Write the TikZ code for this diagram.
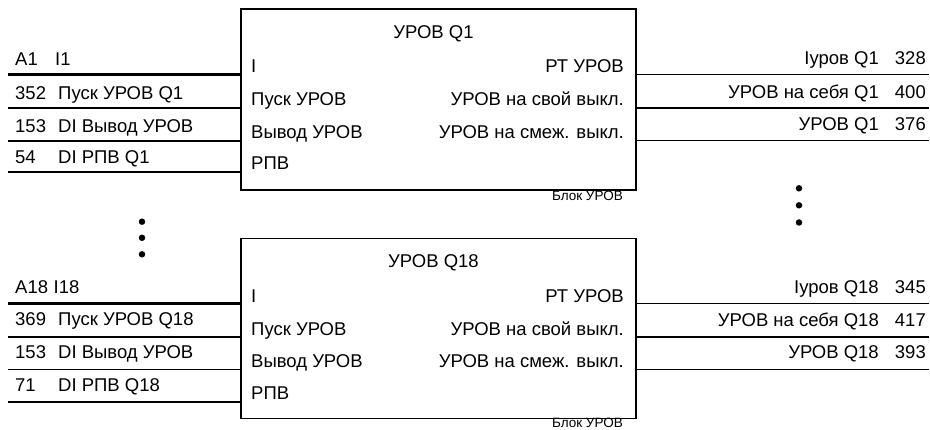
\documentclass[tikz,border=0pt]{standalone}
\usepackage{fontspec}
\setmainfont{Liberation Sans}
\begin{document}
\begin{tikzpicture}[x=1pt,y=-1pt,
  lbl/.style={inner sep=0pt, font=\fontsize{18.5}{21}\selectfont, anchor=base west},
  rlbl/.style={lbl, anchor=base east},
  ttl/.style={lbl, anchor=base},
  small/.style={inner sep=0pt, font=\fontsize{13.5}{15}\selectfont, anchor=base east},
  blk/.style={draw, line width=1.4pt, minimum width=395pt, inner sep=0pt},
  wire/.style={line width=1.4pt},
  bus/.style={line width=2.6pt},
  dotm/.style={circle, fill, inner sep=0pt, minimum size=6.5pt}]
\useasboundingbox (0,0) rectangle (930,430);

% ---------- blocks ----------
\node[blk, minimum height=181pt] (b1) at (438.5,99.5) {};
\node[blk, minimum height=180pt] (b2) at (438.5,328.4) {};

% ---------- block 1 wires ----------
\coordinate (L1a) at (8,74.5);
\coordinate (L1b) at (8,108);
\coordinate (L1c) at (8,141);
\coordinate (L1d) at (8,172);
\coordinate (R1a) at (929,74.5);
\coordinate (R1b) at (929,108);
\coordinate (R1c) at (929,140.5);
\draw[bus]  (L1a) -- (L1a -| b1.west);
\draw[wire] (L1b) -- (L1b -| b1.west);
\draw[wire] (L1c) -- (L1c -| b1.west);
\draw[wire] (L1d) -- (L1d -| b1.west);
\draw[wire] (b1.east |- R1a) -- (R1a);
\draw[wire] (b1.east |- R1b) -- (R1b);
\draw[wire] (b1.east |- R1c) -- (R1c);

% ---------- block 2 wires ----------
\coordinate (L2a) at (8,303.5);
\coordinate (L2b) at (8,337);
\coordinate (L2c) at (8,369.5);
\coordinate (L2d) at (8,402);
\coordinate (R2a) at (929,303.5);
\coordinate (R2b) at (929,337);
\coordinate (R2c) at (929,369.5);
\draw[bus]  (L2a) -- (L2a -| b2.west);
\draw[wire] (L2b) -- (L2b -| b2.west);
\draw[wire] (L2c) -- (L2c -| b2.west);
\draw[wire] (L2d) -- (L2d -| b2.west);
\draw[wire] (b2.east |- R2a) -- (R2a);
\draw[wire] (b2.east |- R2b) -- (R2b);
\draw[wire] (b2.east |- R2c) -- (R2c);

% ---------- block 1 texts ----------
\node[ttl]  (t1)  at (433.5,38.5) {УРОВ Q1};
\node[lbl]  (i1a) at (251,72.5)  {I};
\node[lbl]  (i1b) at (251,105.5) {Пуск УРОВ};
\node[lbl]  (i1c) at (251,138.5) {Вывод УРОВ};
\node[lbl]  (i1d) at (251,170)   {РПВ};
\node[rlbl] (o1a) at (624,72.5)  {РТ УРОВ};
\node[rlbl] (o1b) at (624,105.5) {УРОВ на свой выкл.};
\node[rlbl] (o1c) at (624,138.5) {УРОВ на смеж. выкл.};
\node[small] (k1) at (623,201) {Блок УРОВ};

\node[lbl] (n1a) at (15,65.5)  {A1};
\node[lbl] (s1a) at (55,65.5)  {I1};
\node[lbl] (n1b) at (15,100)   {352};
\node[lbl] (s1b) at (58,100)   {Пуск УРОВ Q1};
\node[lbl] (n1c) at (15,133)   {153};
\node[lbl] (s1c) at (58,133)   {DI Вывод УРОВ};
\node[lbl] (n1d) at (15,163.5) {54};
\node[lbl] (s1d) at (58,163.5) {DI РПВ Q1};

\node[rlbl] (q1a) at (879,65)   {Iуров Q1};
\node[rlbl] (m1a) at (926,65)   {328};
\node[rlbl] (q1b) at (879,98.5) {УРОВ на себя Q1};
\node[rlbl] (m1b) at (926,98.5) {400};
\node[rlbl] (q1c) at (879,130.5){УРОВ Q1};
\node[rlbl] (m1c) at (926,130.5){376};

% ---------- block 2 texts ----------
\node[ttl]  (t2)  at (433.5,268) {УРОВ Q18};
\node[lbl]  (i2a) at (251,302.5) {I};
\node[lbl]  (i2b) at (251,335.5) {Пуск УРОВ};
\node[lbl]  (i2c) at (251,368)   {Вывод УРОВ};
\node[lbl]  (i2d) at (251,400)   {РПВ};
\node[rlbl] (o2a) at (624,302.5) {РТ УРОВ};
\node[rlbl] (o2b) at (624,335.5) {УРОВ на свой выкл.};
\node[rlbl] (o2c) at (624,368)   {УРОВ на смеж. выкл.};
\node[small] (k2) at (623,428) {Блок УРОВ};

\node[lbl] (n2a) at (15,293.5)  {A18};
\node[lbl] (s2a) at (53.5,293.5)  {I18};
\node[lbl] (n2b) at (15,326)    {369};
\node[lbl] (s2b) at (58,326)    {Пуск УРОВ Q18};
\node[lbl] (n2c) at (15,358.5)  {153};
\node[lbl] (s2c) at (58,358.5)  {DI Вывод УРОВ};
\node[lbl] (n2d) at (15,391.5)  {71};
\node[lbl] (s2d) at (58,391.5)  {DI РПВ Q18};

\node[rlbl] (q2a) at (879,293.5) {Iуров Q18};
\node[rlbl] (m2a) at (926,293.5) {345};
\node[rlbl] (q2b) at (879,326.5) {УРОВ на себя Q18};
\node[rlbl] (m2b) at (926,326.5) {417};
\node[rlbl] (q2c) at (879,358.5) {УРОВ Q18};
\node[rlbl] (m2c) at (926,358.5) {393};

% ---------- ellipsis dots ----------
\node[dotm] (dr1) at (799,188.3) {};
\node[dotm] (dr2) at (799,205.3) {};
\node[dotm] (dr3) at (799,222.5) {};
\node[dotm] (dl1) at (142,221.7) {};
\node[dotm] (dl2) at (142,237.8) {};
\node[dotm] (dl3) at (142,254.3) {};
\end{tikzpicture}
\end{document}
